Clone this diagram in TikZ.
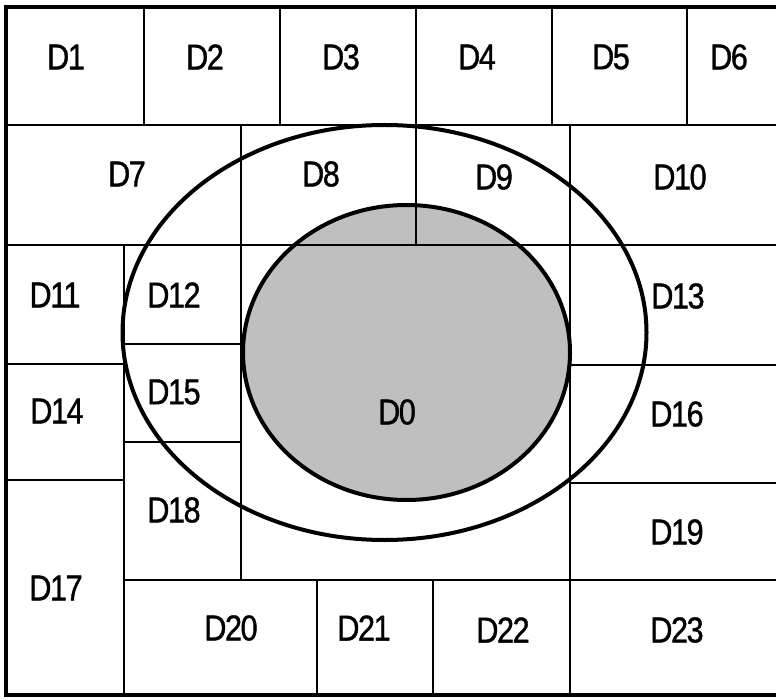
\documentclass[tikz,border=0pt]{standalone}
\usepackage{fontspec}
\newfontfamily\labfont[FakeStretch=0.85,FakeBold=1,LetterSpace=-4]{Liberation Sans}
\begin{document}
\begin{tikzpicture}[x=1pt,y=-1pt,
  grid/.style={line width=2pt,black},
  frame/.style={line width=3.5pt,black},
  ring/.style={line width=4pt,black},
  lab/.style={font=\labfont\fontsize{36}{36}\selectfont,inner sep=0pt,text=black}]
\useasboundingbox (0,0) rectangle (776,700);
% shaded inner region
\fill[black!25] (406.5,352.5) ellipse [x radius=163.5,y radius=147.5];
% frame
\draw[frame] (776,7) -- (6,7) -- (6,695) -- (776,695);
% horizontal grid lines
\draw[grid] (6,125) -- (776,125);
\draw[grid] (6,245) -- (776,245);
\draw[grid] (6,364) -- (124,364);
\draw[grid] (124,344) -- (241,344);
\draw[grid] (570,365) -- (776,365);
\draw[grid] (6,480) -- (124,480);
\draw[grid] (124,442) -- (241,442);
\draw[grid] (570,483) -- (776,483);
\draw[grid] (124,580) -- (776,580);
% vertical grid lines
\draw[grid] (144,7) -- (144,125);
\draw[grid] (280,7) -- (280,125);
\draw[grid] (416,7) -- (416,245);
\draw[grid] (552,7) -- (552,125);
\draw[grid] (687,7) -- (687,125);
\draw[grid] (241,125) -- (241,580);
\draw[grid] (570,125) -- (570,695);
\draw[grid] (124,245) -- (124,695);
\draw[grid] (317,580) -- (317,695);
\draw[grid] (433,580) -- (433,695);
% ellipses
\draw[ring] (384.5,332.5) ellipse [x radius=262,y radius=207.5];
\draw[ring] (406.5,352.5) ellipse [x radius=163.5,y radius=147.5];
% labels
\node[lab] (d1) at (66,57) {D1};
\node[lab] (d2) at (205,57) {D2};
\node[lab] (d3) at (341,57) {D3};
\node[lab] (d4) at (477,57) {D4};
\node[lab] (d5) at (611,57) {D5};
\node[lab] (d6) at (729,57) {D6};
\node[lab] (d7) at (127,174) {D7};
\node[lab] (d8) at (321,174) {D8};
\node[lab] (d9) at (494,177) {D9};
\node[lab] (d10) at (680,177) {D10};
\node[lab] (d11) at (55,295) {D11};
\node[lab] (d12) at (174,295) {D12};
\node[lab] (d13) at (678,296) {D13};
\node[lab] (d14) at (57,411) {D14};
\node[lab] (d15) at (174,392) {D15};
\node[lab] (d0) at (397,412) {D0};
\node[lab] (d16) at (677,414) {D16};
\node[lab] (d17) at (56,588) {D17};
\node[lab] (d18) at (174,510) {D18};
\node[lab] (d19) at (677,532) {D19};
\node[lab] (d20) at (231,628) {D20};
\node[lab] (d21) at (364,628) {D21};
\node[lab] (d22) at (503,630) {D22};
\node[lab] (d23) at (677,630) {D23};
\end{tikzpicture}
\end{document}
